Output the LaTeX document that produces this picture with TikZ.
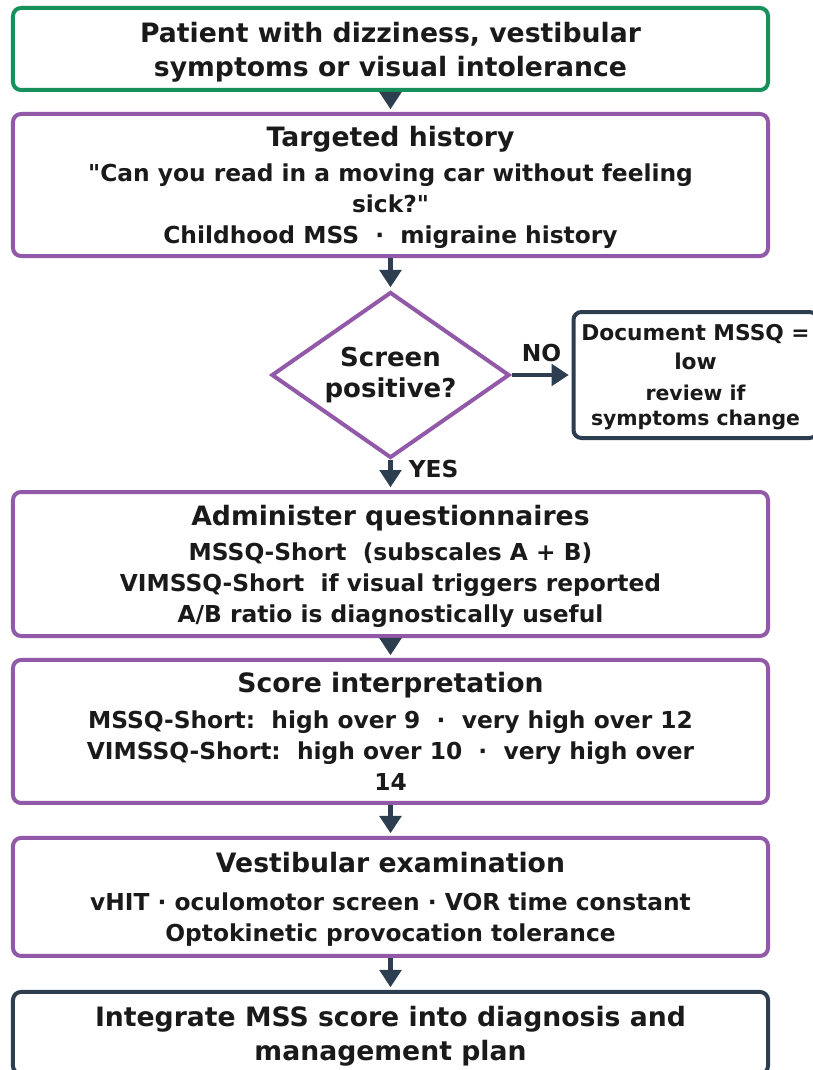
\documentclass[tikz,border=0pt]{standalone}
\usepackage{fontspec}
\setmainfont{DejaVu Sans}
\usepackage{xcolor}
\usepackage{tikz}
\usetikzlibrary{shapes.geometric,arrows.meta}

\definecolor{startgreen}{HTML}{17915C}
\definecolor{steppurple}{HTML}{9159A8}
\definecolor{navy}{HTML}{2C3E50}
\definecolor{ink}{HTML}{1A1A1A}

\newcommand{\titlef}{\fontsize{20}{25.5}\selectfont\bfseries}
\newcommand{\bodyf}{\fontsize{17.5}{23.25}\selectfont\bfseries}
\newcommand{\diamf}{\fontsize{19.5}{23.25}\selectfont\bfseries}
\newcommand{\sidef}{\fontsize{16.3}{21.75}\selectfont\bfseries}
\newcommand{\sidesmf}{\fontsize{15.3}{19}\selectfont\bfseries}
\newcommand{\labelf}{\fontsize{17.5}{21}\selectfont\bfseries}

\tikzset{
  stepbox/.style={draw=steppurple, line width=3pt, rounded corners=6pt, fill=white,
    text=ink, align=center, text depth=0pt, minimum width=566.25pt, font=\bodyf},
  startbox/.style={stepbox, draw=startgreen, minimum height=61.5pt, font=\titlef},
  endbox/.style={stepbox, draw=navy, minimum height=61.5pt, font=\titlef},
  decision/.style={diamond, draw=steppurple, line width=3pt, aspect=1.43,
    minimum width=178.5pt, minimum height=124.5pt, inner sep=0pt,
    text=ink, align=center, font=\diamf},
  sidebox/.style={draw=navy, line width=3pt, rounded corners=6pt, text=ink,
    align=center, text depth=0pt, minimum width=183pt, minimum height=94.5pt, font=\sidef}
}

\begin{document}
\begin{tikzpicture}[->, >={Triangle[length=13pt,width=16pt]}, shorten >=2pt, auto, inner sep=2pt,
    every edge/.style={draw=navy, line width=3.5pt}]

      \useasboundingbox[fill=white] (-292.875pt,36.75pt) rectangle (316.875pt,-765.75pt);

      \node[startbox] (start) {Patient with dizziness, vestibular\\symptoms or visual intolerance};
      \node[stepbox, minimum height=106.5pt] (hist) [node distance=102pt, below of=start]
        {{\titlef Targeted history}\\[3.4pt]
         \textquotedbl Can you read in a moving car without feeling\\ sick?\textquotedbl\\
         Childhood MSS\ \ ·\ \ migraine history};
      \node[decision] (scr) [node distance=142.5pt, below of=hist] {Screen\\positive?};
      \node[sidebox] (nolow) [node distance=228.75pt, right of=scr]
        {Document MSSQ =\\ low\\[2pt] {\sidesmf review if}\\[-3pt] {\sidesmf symptoms change}};
      \node[stepbox, minimum height=108pt] (admin) [node distance=141.75pt, below of=scr]
        {{\titlef Administer questionnaires}\\[3.4pt]
         MSSQ-Short\ \ (subscales A + B)\\
         VIMSSQ-Short\ \ if visual triggers reported\\
         A/B ratio is diagnostically useful};
      \node[stepbox, minimum height=107.25pt] (score) [node distance=125.6pt, below of=admin]
        {{\titlef Score interpretation}\\[3.4pt]
         MSSQ-Short:\ \ high over 9\ \ ·\ \ very high over 12\\
         VIMSSQ-Short:\ \ high over 10\ \ ·\ \ very high over\\
         14};
      \node[stepbox, minimum height=88.5pt] (vest) [node distance=124.1pt, below of=score]
        {{\titlef Vestibular examination}\\[5pt]
         vHIT · oculomotor screen · VOR time constant\\
         Optokinetic provocation tolerance};
      \node[endbox] (integ) [node distance=102pt, below of=vest]
        {Integrate MSS score into diagnosis and\\management plan};

      \tikzstyle{every node}=[font=\labelf, text=ink, inner sep=8pt]
      \path
      (start) edge (hist)
      (hist) edge (scr)
      (scr) edge node {NO} (nolow)
      (scr) edge node [pos=0.3, xshift=4pt] {YES} (admin)
      (admin) edge (score)
      (score) edge (vest)
      (vest) edge (integ);
    \end{tikzpicture}
\end{document}
